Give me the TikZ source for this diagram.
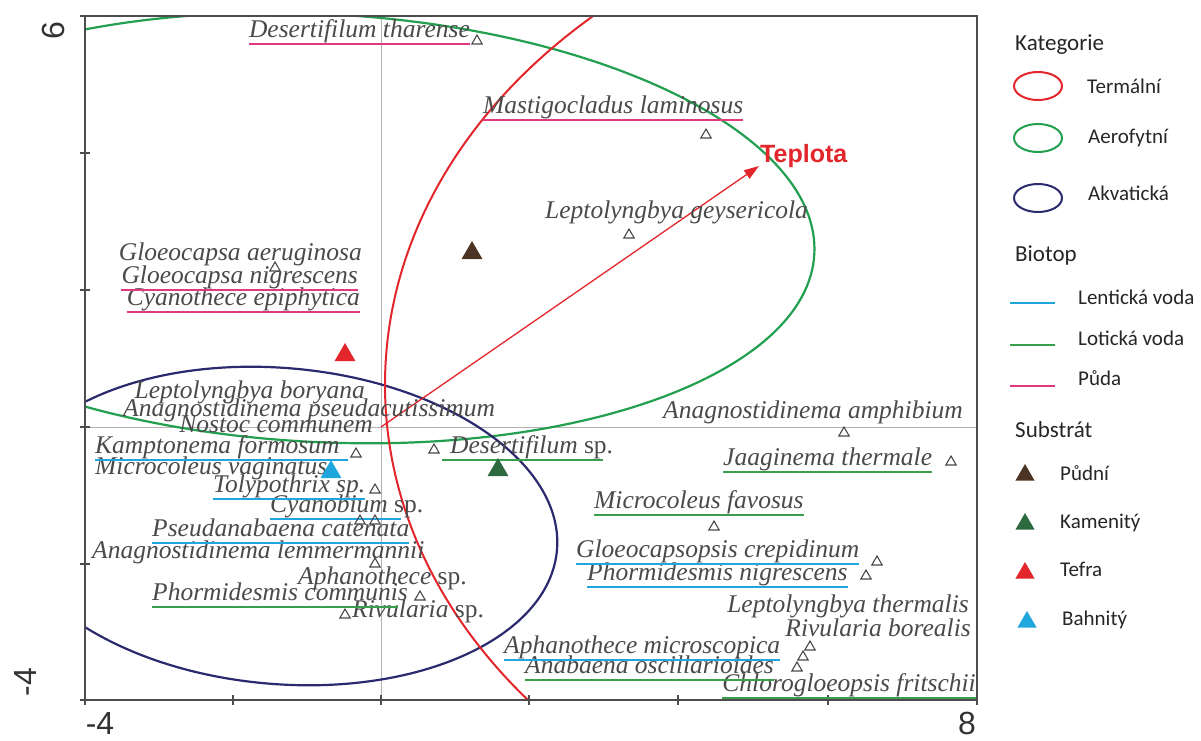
\documentclass[tikz,border=0pt]{standalone}
\usepackage{fontspec}
\setmainfont{Liberation Serif}
\newfontfamily\legfont{Carlito}
\newfontfamily\axfont{Liberation Sans}
\usepackage{xcolor}
\usetikzlibrary{arrows.meta,positioning,shapes.geometric}
\definecolor{txt}{HTML}{4A4A4A}
\definecolor{tred}{HTML}{E3262B}
\definecolor{cgreen}{HTML}{22A04F}
\definecolor{cnavy}{HTML}{2B2A6E}
\definecolor{cpink}{HTML}{E4387E}
\definecolor{ccyan}{HTML}{1FA6DC}
\definecolor{clotic}{HTML}{3A9F4C}
\definecolor{cbrown}{HTML}{4B3424}
\definecolor{cdkgreen}{HTML}{2D6A3F}

\begin{document}
\begin{tikzpicture}[x=1pt,y=-1pt,
  sp/.style={anchor=west,inner sep=0pt,text=txt,font=\fontsize{25.5}{25}\selectfont\itshape,text height=17pt,text depth=7pt},
  spr/.style={sp,anchor=east},
  tri/.style={regular polygon,regular polygon sides=3,draw=txt,line width=1.1pt,minimum size=12pt,inner sep=0pt},
  cen/.style={regular polygon,regular polygon sides=3,minimum size=24pt,inner sep=0pt},
  pd/.style={line width=2.4pt,cpink},lv/.style={line width=2.4pt,ccyan},lo/.style={line width=2.4pt,clotic},
  cat/.style={line width=2.2pt},
  le/.style={ellipse,line width=2pt,minimum width=48pt,minimum height=28pt,inner sep=0pt},
  lg/.style={anchor=west,inner sep=0pt,font=\legfont\fontsize{21}{21}\selectfont,text=black!85},
  hd/.style={anchor=west,inner sep=0pt,font=\legfont\fontsize{23}{23}\selectfont,text=black!85},
  ax/.style={font=\axfont\fontsize{32}{32}\selectfont,text=black!80,inner sep=0pt},
  ar/.style={-{Triangle[length=15pt,width=10pt]},line width=1.3pt,tred}]
\useasboundingbox (0,0) rectangle (1201,740);
\fill[white] (0,0) rectangle (1201,740);
\draw[black!30,line width=0.6pt] (381,16) -- (381,700) (85,427) -- (977,427);
\begin{scope}
  \clip (85,16) rectangle (977,700);
  \draw[cat,cgreen,rotate around={-3:(320,228)}] (320,228) ellipse [x radius=495,y radius=214];
  \draw[cat,cnavy,rotate around={-5:(280,526)}] (280,526) ellipse [x radius=278,y radius=158];
  \draw[cat,tred,line width=2pt] (1025,385) ellipse [x radius=640,y radius=500];
\end{scope}
\draw[line width=1.4pt,black!70] (85,16) rectangle (977,700);
\foreach \x in {85,233,381,529,678,828,977} \draw[line width=1.2pt,black!70] (\x,695) -- (\x,705);
\foreach \y in {16,153,290,427,564,700} \draw[line width=1.2pt,black!70] (80,\y) -- (90,\y);
\node[ax,rotate=90] (y6) at (53,31) {6};
\node[ax,rotate=90] (ym4) at (25,682) {-4};
\node[ax] (xm4) at (100,723) {-4};
\node[ax] (x8) at (967,723) {8};

\coordinate (o) at (381,427); \coordinate (tip) at (759,166);
\draw[ar] (o) -- (tip);
\node[font=\axfont\bfseries\fontsize{25}{25}\selectfont,text=tred,anchor=base west,inner sep=0pt] (tep) at (760,162) {Teplota};

\node[spr] (dth) at (470,32) {Desertifilum tharense};
\node[sp] (mla) at (483,108) {Mastigocladus laminosus};
\node[sp] (lge) at (545,213) {Leptolyngbya geysericola};
\node[spr] (gae) at (362,255) {Gloeocapsa aeruginosa};
\node[spr] (gni) at (358,278) {Gloeocapsa nigrescens};
\node[spr] (cep) at (360,300) {Cyanothece epiphytica};
\node[spr] (lbo) at (365,393) {Leptolyngbya boryana};
\node[sp] (aps) at (123,411) {Anagnostidinema pseudacutissimum};
\node[spr] (nco) at (373,427) {Nostoc communem};
\node[sp] (kfo) at (95,448) {Kamptonema formosum};
\node[sp] (mva) at (95,469) {Microcoleus vaginatus};
\node[sp] (tol) at (213,487) {Tolypothrix sp.};
\node[sp] (cya) at (270,507) {Cyanobium \textup{sp.}};
\node[sp] (pca) at (152,531) {Pseudanabaena catenata};
\node[sp] (ale) at (92,553) {Anagnostidinema lemmermannii};
\node[sp] (aph) at (298,579) {Aphanothece \textup{sp.}};
\node[sp] (pco) at (152,595) {Phormidesmis communis};
\node[sp] (riv) at (352,612) {Rivularia \textup{sp.}};
\node[sp] (dsp) at (450,448) {Desertifilum \textup{sp.}};
\node[spr] (aam) at (963,413) {Anagnostidinema amphibium};
\node[sp] (jth) at (723,460) {Jaaginema thermale};
\node[sp] (mfa) at (594,503) {Microcoleus favosus};
\node[sp] (gcr) at (576,552) {Gloeocapsopsis crepidinum};
\node[sp] (pni) at (587,575) {Phormidesmis nigrescens};
\node[spr] (lth) at (969,607) {Leptolyngbya thermalis};
\node[spr] (rbo) at (971,631) {Rivularia borealis};
\node[sp] (ami) at (504,648) {Aphanothece microscopica};
\node[sp] (aos) at (525,668) {Anabaena oscillarioides};
\node[spr] (cfr) at (976,686) {Chlorogloeopsis fritschii};

\draw[pd] (dth.south west) -- (dth.south east);
\draw[pd] (mla.south west) -- (mla.south east);
\draw[pd] (gni.south west) -- (gni.south east);
\draw[pd] (cep.south west) -- (cep.south east);
\draw[lv] (kfo.south west) -- ([xshift=8pt]kfo.south east);
\draw[lv] (tol.south west) -- (tol.south east);
\draw[lv] (cya.south west) -- ([xshift=-22pt]cya.south east);
\draw[lv] (pca.south west) -- (pca.south east);
\draw[lv] (gcr.south west) -- (gcr.south east);
\draw[lv] (pni.south west) -- (pni.south east);
\draw[lv] (ami.south west) -- (ami.south east);
\draw[lo] (pco.south west) -- ([xshift=-10pt]pco.south east);
\draw[lo] ([xshift=-8pt]dsp.south west) -- ([xshift=-10pt]dsp.south east);
\draw[lo] (jth.south west) -- (jth.south east);
\draw[lo] (mfa.south west) -- (mfa.south east);
\draw[lo] (aos.south west) -- (aos.south east);
\draw[lo] (cfr.south west) -- (cfr.south east);

\node[tri] (t1) at (477,41) {};
\node[tri] (t2) at (706,135) {};
\node[tri] (t3) at (629,235) {};
\node[tri] (t4) at (275,268) {};
\node[tri] (t5) at (356,454) {};
\node[tri] (t6) at (434,450) {};
\node[tri] (t7) at (844,433) {};
\node[tri] (t8) at (951,462) {};
\node[tri] (t9) at (375,490) {};
\node[tri] (t10) at (360,521) {};
\node[tri] (t11) at (375,521) {};
\node[tri] (t12) at (714,527) {};
\node[tri] (t13) at (375,564) {};
\node[tri] (t14) at (420,597) {};
\node[tri] (t15) at (345,615) {};
\node[tri] (t16) at (877,562) {};
\node[tri] (t17) at (866,576) {};
\node[tri] (t18) at (810,647) {};
\node[tri] (t19) at (803,657) {};
\node[tri] (t20) at (797,668) {};
\node[cen,fill=cbrown] (c1) at (472,253) {};
\node[cen,fill=cdkgreen] (c2) at (498,470) {};
\node[cen,fill=tred] (c3) at (345,355) {};
\node[cen,fill=ccyan] (c4) at (331,472) {};

\node[hd] (kat) at (1015,45) {Kategorie};
\node[le,draw=tred] (e1) at (1038,86) {};   \node[lg] (l1) at (1087,86) {Termální};
\node[le,draw=cgreen] (e2) at (1038,138) {}; \node[lg] (l2) at (1088,138) {Aerofytní};
\node[le,draw=cnavy] (e3) at (1038,198) {};  \node[lg] (l3) at (1088,193) {Akvatická};
\node[hd] (bio) at (1015,255) {Biotop};
\draw[lv] (1010,303) -- (1055,303); \node[lg] (l4) at (1078,297) {Lentická voda};
\draw[lo] (1010,345) -- (1055,345); \node[lg] (l5) at (1078,338) {Lotická voda};
\draw[pd] (1010,386) -- (1055,386); \node[lg] (l6) at (1078,378) {Půda};
\node[hd] (sub) at (1015,430) {Substrát};
\node[cen,fill=cbrown,minimum size=22pt] (s1) at (1025,475) {};   \node[lg] (l7) at (1060,473) {Půdní};
\node[cen,fill=cdkgreen,minimum size=22pt] (s2) at (1025,524) {}; \node[lg] (l8) at (1060,523) {Kamenitý};
\node[cen,fill=tred,minimum size=22pt] (s3) at (1025,573) {};     \node[lg] (l9) at (1060,569) {Tefra};
\node[cen,fill=ccyan,minimum size=22pt] (s4) at (1027,622) {};    \node[lg] (l10) at (1062,620) {Bahnitý};
\end{tikzpicture}
\end{document}
